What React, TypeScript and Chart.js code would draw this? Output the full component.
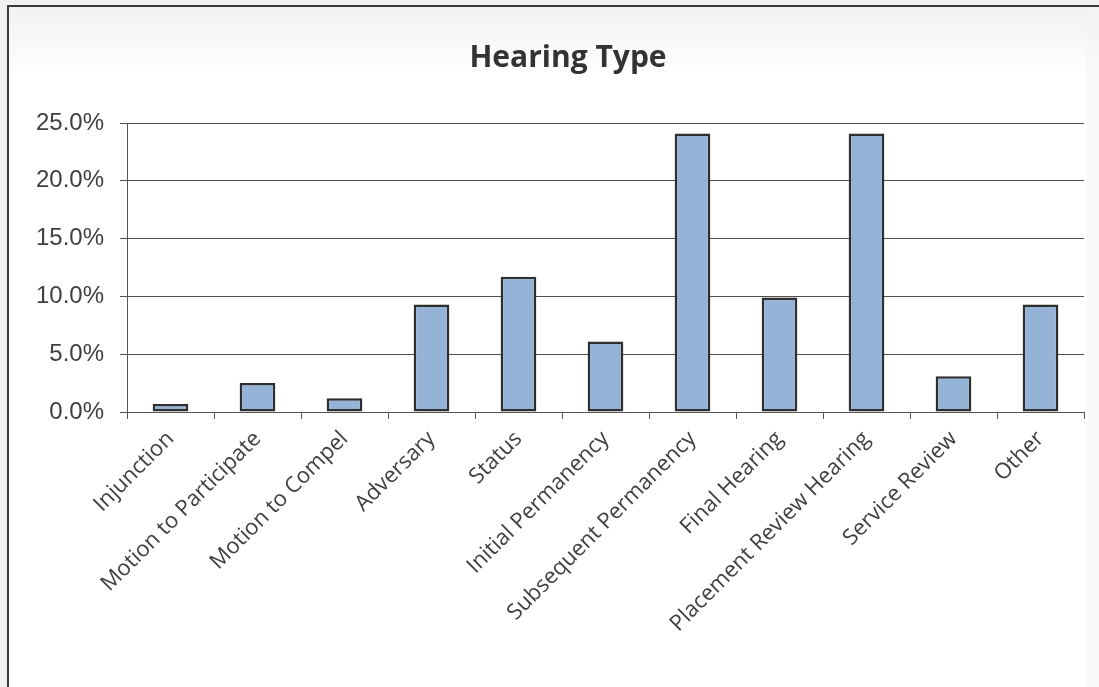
import React, { useEffect, useRef } from "react";
import { Chart, registerables } from "chart.js";

Chart.register(...registerables);

const titleText = "Hearing Type";
const categories = [
  "Injunction",
  "Motion to Participate",
  "Motion to Compel",
  "Adversary",
  "Status",
  "Initial Permanency",
  "Subsequent Permanency",
  "Final Hearing",
  "Placement Review Hearing",
  "Service Review",
  "Other",
];
const shares = [0.007, 0.025, 0.012, 0.093, 0.117, 0.061, 0.241, 0.099, 0.241, 0.031, 0.093];
const yMin = 0;
const yMax = 0.25;
const yStep = 0.05;

export default function App() {
  const ref = useRef<HTMLCanvasElement | null>(null);

  useEffect(() => {
    if (!ref.current) return;
    const chart = new Chart(ref.current, {
      type: "bar",
      data: {
        labels: categories,
        datasets: [
          {
            data: shares,
            backgroundColor: "#95b3d7",
            borderColor: "#2e2e2e",
            borderWidth: 2.5,
            borderSkipped: false,
            barPercentage: 0.41,
            categoryPercentage: 1,
          },
        ],
      },
      options: {
        responsive: false,
        animation: false,
        layout: { padding: { left: 0, right: 22, top: 0, bottom: 0 } },
        plugins: {
          legend: { display: false },
          tooltip: { enabled: false },
          title: {
            display: true,
            text: titleText,
            color: "#333333",
            font: { family: "'Open Sans'", size: 30, weight: "bold" },
            padding: { top: 33, bottom: 47 },
          },
        },
        scales: {
          x: {
            grid: {
              offset: true,
              drawOnChartArea: false,
              drawTicks: true,
              tickLength: 7,
              color: "#555555",
            },
            border: { display: true, color: "#555555", width: 1 },
            ticks: {
              autoSkip: false,
              maxRotation: 45,
              minRotation: 45,
              padding: 7,
              color: "#404040",
              font: { family: "'Open Sans'", size: 22 },
            },
            afterFit: (scale: any) => {
              scale.height = 275;
            },
          },
          y: {
            min: yMin,
            max: yMax,
            grid: {
              color: "#505050",
              lineWidth: 1,
              drawTicks: true,
              tickLength: 7,
            },
            border: { display: true, color: "#555555", width: 1 },
            ticks: {
              stepSize: yStep,
              padding: 16,
              color: "#404040",
              font: { family: "'Liberation Sans'", size: 24 },
              callback: (v: any) => (Number(v) * 100).toFixed(1) + "%",
            },
            afterFit: (scale: any) => {
              scale.width = 118;
            },
          },
          spacer: {
            type: "linear",
            position: "right",
            display: true,
            grid: { display: false, drawTicks: false },
            border: { display: false },
            ticks: { display: false },
            afterFit: (scale: any) => {
              scale.width = 43;
            },
          },
        },
      },
    });
    return () => chart.destroy();
  }, []);

  return (
    <div
      style={{
        position: "fixed",
        left: 0,
        top: 0,
        width: 1099,
        height: 687,
        background: "#f0f0f0",
        overflow: "hidden",
      }}
    >
      <div
        style={{
          position: "absolute",
          left: 7,
          top: 5,
          width: 1150,
          height: 700,
          border: "2px solid #3a3a3a",
          background: "linear-gradient(#f2f2f2 0px, #ffffff 70px)",
          overflow: "hidden",
        }}
      >
        <div
          style={{
            position: "absolute",
            left: 1077,
            top: 0,
            width: 80,
            height: 710,
            background: "linear-gradient(#f2f2f2 0px, #fafafa 70px)",
          }}
        />
        <canvas
          ref={ref}
          width={1140}
          height={680}
          style={{ display: "block", position: "relative" }}
        />
      </div>
    </div>
  );
}
